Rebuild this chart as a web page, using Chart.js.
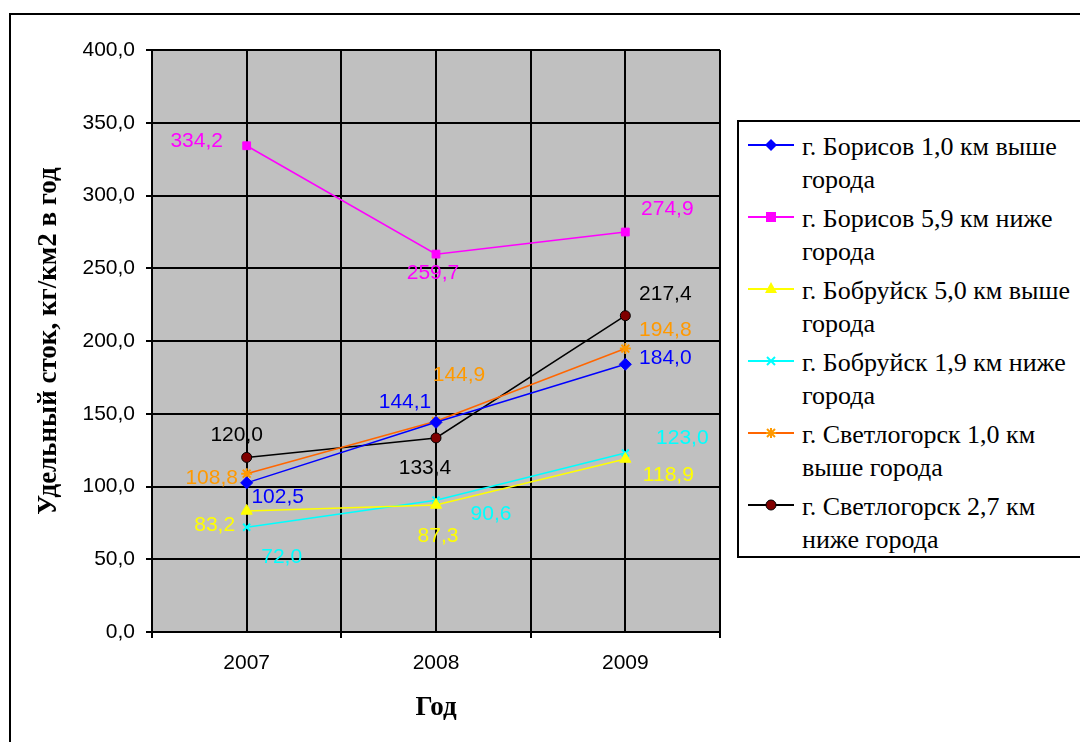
<!DOCTYPE html>
<html lang="ru">
<head>
  <meta charset="UTF-8">
  <title>Удельный сток</title>
  <script src="https://cdn.jsdelivr.net/npm/chart.js"></script>
  <style>
    body {
      margin: 0;
      background: #fff;
      overflow: hidden;
    }
    .wrap {
      position: relative;
      width: 1080px;
      height: 742px;
      overflow: hidden;
    }
    .frame {
      position: absolute;
      left: 9px;
      top: 13px;
      width: 1120px;
      height: 800px;
      border: 2px solid #000;
      box-sizing: border-box;
    }
    canvas {
      position: absolute;
      left: 0;
      top: 0;
    }
    .legend {
      position: absolute;
      left: 737px;
      top: 120px;
      width: 400px;
      height: 438px;
      border: 2px solid #000;
      box-sizing: border-box;
      background: #fff;
      font-family: 'Liberation Serif', serif;
      font-size: 26px;
      color: #000;
      padding-top: 8px;
    }
    .item {
      position: relative;
      height: 66px;
      margin-bottom: 6px;
    }
    .item svg {
      position: absolute;
      left: 9px;
      top: -6px;
    }
    .item span {
      position: absolute;
      left: 63px;
      top: 0;
      line-height: 33px;
      white-space: pre;
    }
  </style>
</head>
<body>
  <div class="wrap">
    <div class="frame"></div>
    <canvas id="chart" width="1080" height="742"></canvas>
    <div class="legend" id="legend"></div>
  </div>

  <script>
    // data
    const years = ['2007', '2008', '2009'];
    const seriesNames = [
      'г. Борисов 1,0 км выше\nгорода',
      'г. Борисов 5,9 км ниже\nгорода',
      'г. Бобруйск 5,0 км выше\nгорода',
      'г. Бобруйск 1,9 км ниже\nгорода',
      'г. Светлогорск 1,0 км\nвыше города',
      'г. Светлогорск 2,7 км\nниже города'
    ];
    const borisovUp = [102.5, 144.1, 184.0];
    const borisovDown = [334.2, 259.7, 274.9];
    const bobruiskUp = [83.2, 87.3, 118.9];
    const bobruiskDown = [72.0, 90.6, 123.0];
    const svetlogorskUp = [108.8, 144.9, 194.8];
    const svetlogorskDown = [120.0, 133.4, 217.4];
    const yMin = 0, yMax = 400, yStep = 50;

    // styles
    const lineColors = ['#0000FF', '#FF00FF', '#FFFF00', '#00FFFF', '#FF6600', '#000000'];
    const labelColors = ['#0000FF', '#FF00FF', '#FFFF00', '#00FFFF', '#FF9900', '#000000'];
    const pointFill = ['#0000FF', '#FF00FF', '#FFFF00', '#00FFFF', '#FF9900', '#800000'];
    const pointStyles = ['rectRot', 'rect', 'triangle', 'crossRot', 'star', 'circle'];
    const pointSizes = [6, 5.5, 6.5, 5, 5.5, 5];
    // label offsets from the point (px)
    const labelDx = [[31, -31, 40], [-50, -3, 42], [-32, 2, 43], [35, 55, 57], [-35, 23, 40], [-10, -11, 40]];
    const labelDy = [[14, -20, -6], [-5, 19, -23], [14, 31, 16], [30, 14, -15], [5, -46, -18], [-22, 30, -21]];

    const allSeries = [borisovUp, borisovDown, bobruiskUp, bobruiskDown, svetlogorskUp, svetlogorskDown];
    const fmt = v => v.toFixed(1).replace('.', ',');

    const datasets = allSeries.map((vals, i) => ({
      label: seriesNames[i],
      data: vals.map((v, j) => ({ x: j, y: v })),
      borderColor: lineColors[i],
      backgroundColor: pointFill[i],
      pointBorderColor: i === 5 ? '#000' : (i === 4 ? pointFill[i] : lineColors[i]),
      pointBackgroundColor: pointFill[i],
      pointStyle: pointStyles[i],
      pointRadius: pointSizes[i],
      pointBorderWidth: i === 3 || i === 4 ? 2 : 1,
      borderWidth: 1.5,
      tension: 0
    }));

    const plotBg = {
      id: 'plotBg',
      beforeDraw(chart) {
        const a = chart.chartArea;
        const ctx = chart.ctx;
        ctx.save();
        ctx.fillStyle = '#C0C0C0';
        ctx.fillRect(a.left, a.top, a.right - a.left, a.bottom - a.top);
        ctx.restore();
      }
    };

    const valueLabels = {
      id: 'valueLabels',
      afterDatasetsDraw(chart) {
        const ctx = chart.ctx;
        ctx.save();
        ctx.font = '21px "Liberation Sans", Arial, sans-serif';
        ctx.textAlign = 'center';
        ctx.textBaseline = 'middle';
        chart.data.datasets.forEach((ds, di) => {
          const meta = chart.getDatasetMeta(di);
          meta.data.forEach((pt, i) => {
            ctx.fillStyle = labelColors[di];
            ctx.fillText(fmt(ds.data[i].y), pt.x + labelDx[di][i], pt.y + labelDy[di][i]);
          });
        });
        ctx.restore();
      }
    };

    Chart.defaults.font.family = '"Liberation Sans", Arial, sans-serif';
    Chart.defaults.color = '#000';

    new Chart(document.getElementById('chart'), {
      type: 'line',
      data: { datasets: datasets },
      options: {
        responsive: false,
        animation: false,
        layout: { padding: { top: 50, right: 360, left: 0, bottom: 0 } },
        plugins: {
          legend: { display: false },
          tooltip: { enabled: false }
        },
        scales: {
          x: {
            type: 'linear',
            min: -0.5,
            max: 2.5,
            afterFit: s => { s.height = 110; },
            afterBuildTicks: s => {
              const t = [];
              for (let v = -0.5; v <= 2.5; v += 0.5) t.push({ value: v });
              s.ticks = t;
            },
            ticks: {
              autoSkip: false,
              maxRotation: 0,
              padding: 13,
              font: { size: 21 },
              callback: v => Number.isInteger(v) ? years[v] : ''
            },
            grid: {
              color: '#000',
              lineWidth: 2,
              tickLength: 6,
              tickColor: c => (c.tick && Math.abs(c.tick.value % 1) === 0.5) ? '#000' : 'rgba(0,0,0,0)'
            },
            border: { color: '#000', width: 2 },
            title: {
              display: true,
              text: 'Год',
              color: '#000',
              font: { family: '"Liberation Serif", serif', size: 27, weight: 'bold' },
              padding: { top: 0, bottom: 18 }
            }
          },
          y: {
            min: yMin,
            max: yMax,
            afterFit: s => { s.width = 152; },
            ticks: {
              stepSize: yStep,
              padding: 11,
              font: { size: 21 },
              callback: v => fmt(v)
            },
            grid: { color: '#000', lineWidth: 2, tickLength: 6, tickColor: '#000' },
            border: { color: '#000', width: 2 },
            title: {
              display: true,
              text: 'Удельный сток, кг/км2 в год',
              color: '#000',
              font: { family: '"Liberation Serif", serif', size: 27, weight: 'bold' },
              padding: { top: 33, bottom: 0 }
            }
          }
        }
      },
      plugins: [plotBg, valueLabels]
    });

    // legend with two-line entries
    function markerSvg(i) {
      const c = lineColors[i], f = pointFill[i];
      let m = '';
      if (pointStyles[i] === 'rectRot') m = `<polygon points="23,15 29,21 23,27 17,21" fill="${f}"/>`;
      else if (pointStyles[i] === 'rect') m = `<rect x="18" y="16" width="10" height="10" fill="${f}"/>`;
      else if (pointStyles[i] === 'triangle') m = `<polygon points="23,14 29,25 17,25" fill="${f}"/>`;
      else if (pointStyles[i] === 'crossRot') m = `<path d="M19,17 L27,25 M27,17 L19,25" stroke="${c}" stroke-width="2"/>`;
      else if (pointStyles[i] === 'star') m = `<path d="M19,17 L27,25 M27,17 L19,25 M23,16 L23,26 M18,21 L28,21" stroke="${f}" stroke-width="2"/>`;
      else m = `<circle cx="23" cy="21" r="5" fill="${f}" stroke="#000" stroke-width="1"/>`;
      return `<svg width="46" height="42"><line x1="0" y1="21" x2="46" y2="21" stroke="${c}" stroke-width="2"/>${m}</svg>`;
    }
    const legendEl = document.getElementById('legend');
    seriesNames.forEach((name, i) => {
      const item = document.createElement('div');
      item.className = 'item';
      item.innerHTML = markerSvg(i);
      const span = document.createElement('span');
      span.textContent = name;
      item.appendChild(span);
      legendEl.appendChild(item);
    });
  </script>
</body>
</html>
